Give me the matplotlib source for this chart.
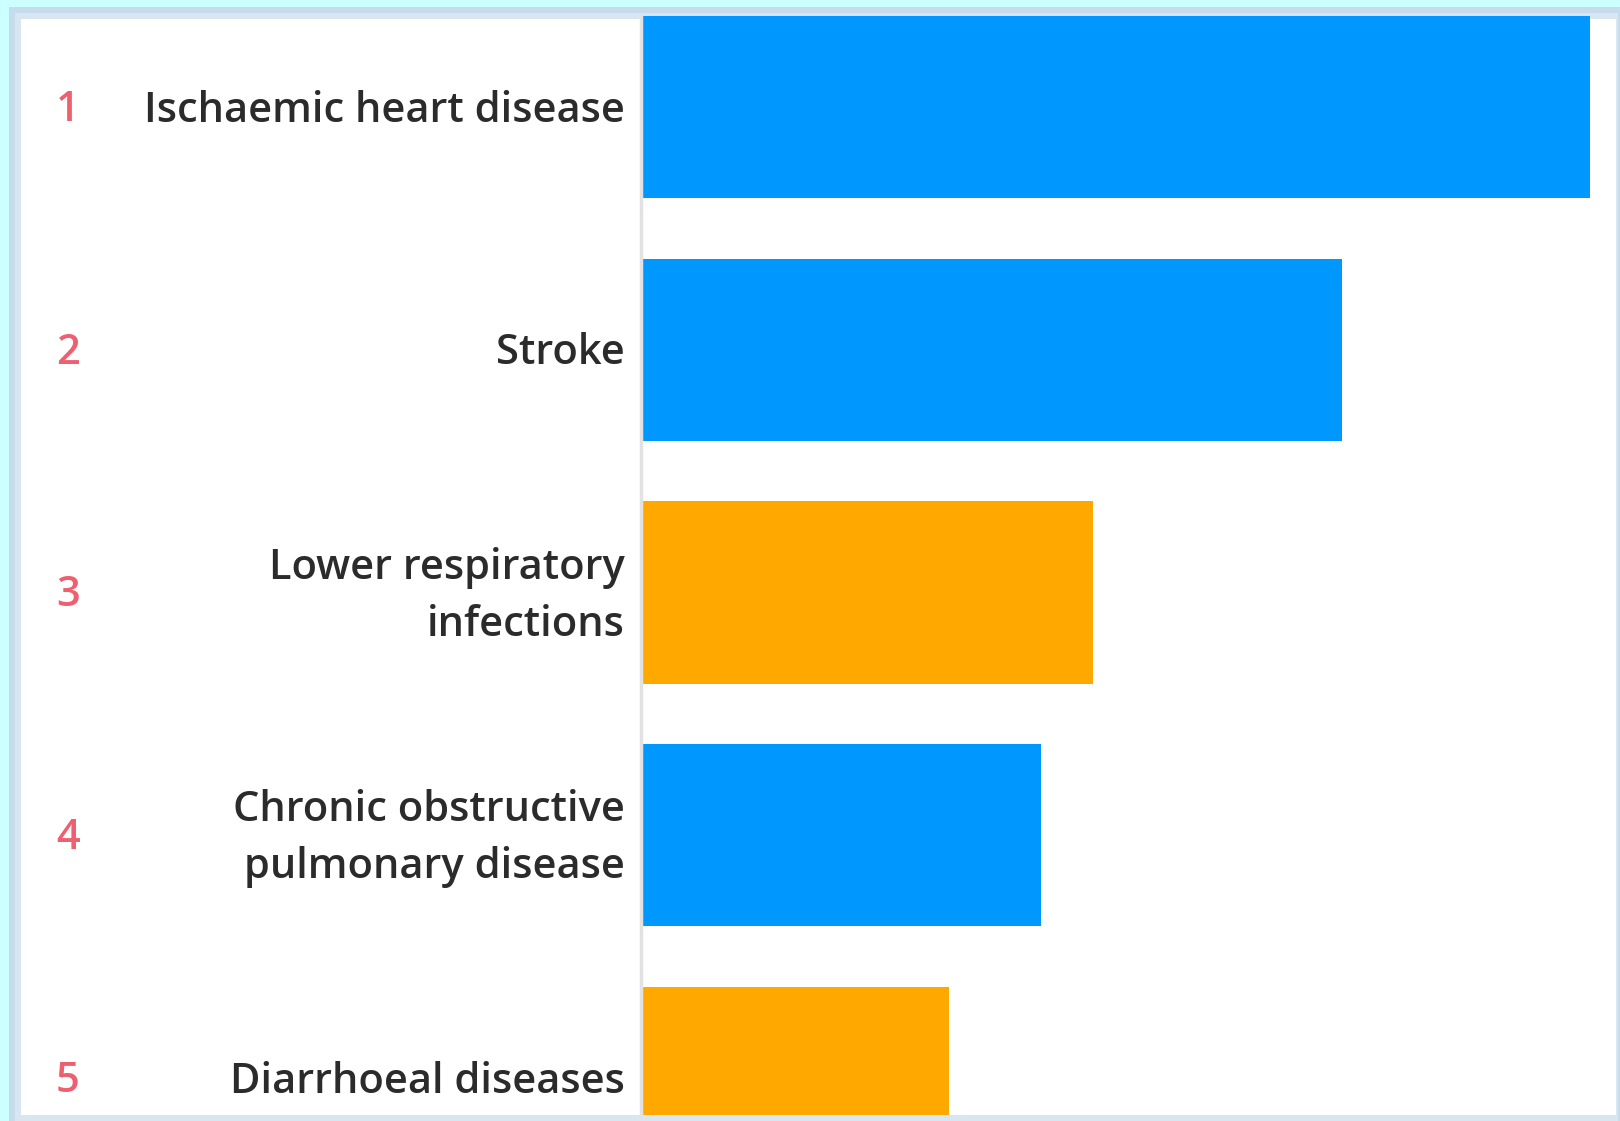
import matplotlib
matplotlib.use("Agg")
import matplotlib.pyplot as plt
from matplotlib.patches import Rectangle
import matplotlib.transforms as mtransforms

# Leading causes of death (estimated, millions)
ranks = ["1", "2", "3", "4", "5"]
causes = [
    "Ischaemic heart disease",
    "Stroke",
    "Lower respiratory\ninfections",
    "Chronic obstructive\npulmonary disease",
    "Diarrhoeal diseases",
]
deaths = [8.90, 6.57, 4.24, 3.75, 2.89]
groups = ["ncd", "ncd", "communicable", "ncd", "communicable"]

group_colors = {"ncd": "#0097ff", "communicable": "#ffa900"}

W, H = 1620, 1121
fig = plt.figure(figsize=(W / 100, H / 100), dpi=100)
fig.patch.set_facecolor("#ccffff")

def px_rect(x0, y0, x1, y1, color):
    # rectangle given in pixel coordinates measured from the top-left corner
    fig.patches.append(Rectangle((x0 / W, 1 - y1 / H), (x1 - x0) / W, (y1 - y0) / H,
                                 transform=fig.transFigure, facecolor=color,
                                 edgecolor="none", zorder=-10))

# panel frame
px_rect(9, 7, W, H, "#c6dbeb")
px_rect(15, 13, W - 2, H, "#d8e6f1")
px_rect(21, 19, 1616, 1115, "white")

# plot area
ax_left, ax_right = 641, 1616
ax_top, ax_bottom = 16, 1115
ax = fig.add_axes([ax_left / W, 1 - ax_bottom / H,
                   (ax_right - ax_left) / W, (ax_bottom - ax_top) / H])
ax.set_facecolor("none")

pos = list(range(len(causes)))
ax.barh(pos, deaths, height=0.75, color=[group_colors[g] for g in groups],
        edgecolor="none", zorder=2)

pitch = 242.75
ax.set_ylim((ax_bottom - 107) / pitch, (ax_top - 107) / pitch)
ax.set_xlim(0, deaths[0] * (ax_right - ax_left) / 949)

for s in ["top", "right", "bottom"]:
    ax.spines[s].set_visible(False)
ax.spines["left"].set_color("#e2e2e2")
ax.spines["left"].set_linewidth(2.5)
ax.set_xticks([])
ax.set_yticks([])

font = "Open Sans"
trans = mtransforms.blended_transform_factory(fig.transFigure, ax.transData)
for i, (r, c) in enumerate(zip(ranks, causes)):
    ax.text(625 / W, i + 0.015, c, transform=trans, ha="right", va="center",
            multialignment="right", fontsize=30, family=font, weight=600,
            color="#2b2b2b", linespacing=1.47)
    ax.text(68 / W, i + 0.012, r, transform=trans, ha="center", va="center",
            fontsize=30, family=font, weight=600, color="#ee6070")

fig.savefig("out.png", dpi=100)
